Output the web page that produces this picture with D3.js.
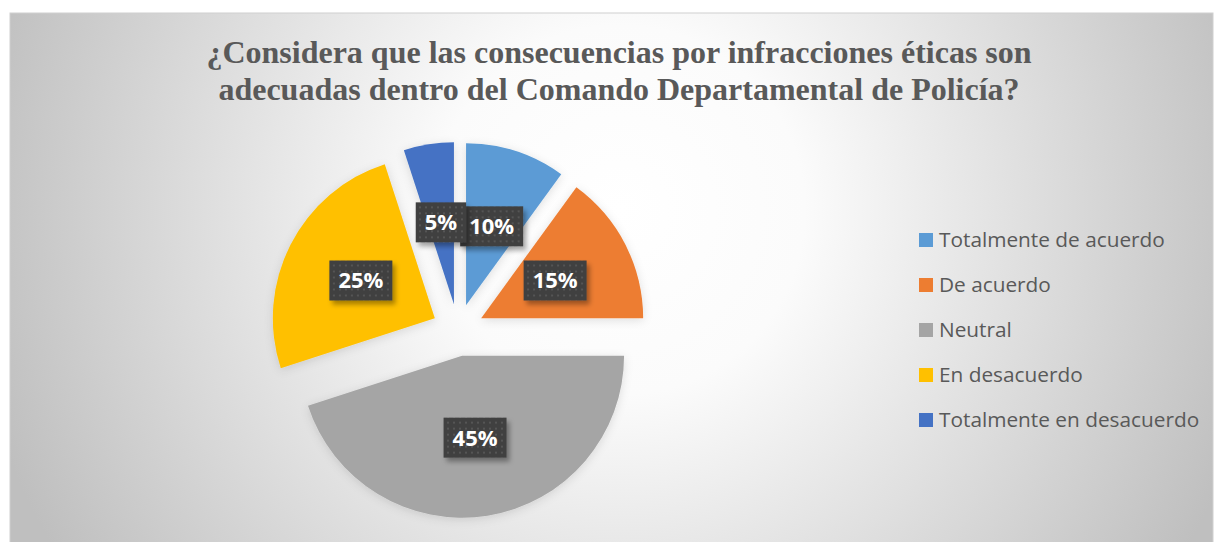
<!DOCTYPE html>
<html>
<head>
<meta charset="utf-8">
<script src="https://cdn.jsdelivr.net/npm/d3@7"></script>
<style>
  body { margin: 0; background: #fff; }
  svg { display: block; }
</style>
</head>
<body>
<div id="chart"></div>
<script>
const width = 1217
const height = 542

// Datos
const categorias = ["Totalmente de acuerdo", "De acuerdo", "Neutral", "En desacuerdo", "Totalmente en desacuerdo"]
const valores = [10, 15, 45, 25, 5]
const etiquetas = ["10%", "15%", "45%", "25%", "5%"]
const colores = ["#5B9BD5", "#ED7D31", "#A5A5A5", "#FFC000", "#4472C4"]
const titulo = ["¿Considera que las consecuencias por infracciones éticas son",
                "adecuadas dentro del Comando Departamental de Policía?"]

const center = { x: 458, y: 330 }
const radius = 162
const explode = 26

const svg = d3.select("#chart")
    .append("svg")
    .attr("width", width)
    .attr("height", height)

const defs = svg.append("defs")

// fondo degradado radial
const grad = defs.append("radialGradient")
    .attr("id", "bg")
    .attr("gradientUnits", "userSpaceOnUse")
    .attr("cx", 620).attr("cy", 210).attr("r", 660)
grad.append("stop").attr("offset", "0").attr("stop-color", "#ffffff")
grad.append("stop").attr("offset", "0.28").attr("stop-color", "#fbfbfb")
grad.append("stop").attr("offset", "1").attr("stop-color", "#bfbfbf")

// sombra de los sectores
const shadow = defs.append("filter").attr("id", "sombra")
    .attr("x", "-20%").attr("y", "-20%").attr("width", "140%").attr("height", "140%")
shadow.append("feDropShadow")
    .attr("dx", 0).attr("dy", 2).attr("stdDeviation", 5)
    .attr("flood-color", "#000").attr("flood-opacity", 0.12)

const boxShadow = defs.append("filter").attr("id", "sombraCaja")
    .attr("x", "-20%").attr("y", "-20%").attr("width", "150%").attr("height", "160%")
boxShadow.append("feDropShadow")
    .attr("dx", 3).attr("dy", 4).attr("stdDeviation", 2.5)
    .attr("flood-color", "#000").attr("flood-opacity", 0.35)

// patrón punteado de las etiquetas
const pat = defs.append("pattern")
    .attr("id", "puntos")
    .attr("patternUnits", "userSpaceOnUse")
    .attr("width", 6).attr("height", 6)
pat.append("rect").attr("width", 6).attr("height", 6).attr("fill", "#3f3f3f")
pat.append("rect").attr("x", 2).attr("y", 2).attr("width", 2).attr("height", 2).attr("fill", "#555555")

svg.append("rect")
    .attr("x", 10).attr("y", 13)
    .attr("width", 1203).attr("height", 540)
    .attr("fill", "url(#bg)")
    .attr("stroke", "#d0d0d0")
    .attr("stroke-width", 1)

// Título
svg.append("g").selectAll("text")
    .data(titulo)
    .join("text")
    .attr("x", 619)
    .attr("y", (d, i) => 63 + i * 37)
    .attr("text-anchor", "middle")
    .attr("font-family", "'Liberation Serif', 'Times New Roman', serif")
    .attr("font-weight", "bold")
    .attr("font-size", 32)
    .attr("fill", "#595959")
    .text(d => d)

// Pie
const pie = d3.pie().sort(null).value(d => d)
const arcs = pie(valores)
const arc = d3.arc().innerRadius(0).outerRadius(radius)
const labelArc = d3.arc().innerRadius(83 * 2).outerRadius(0)

const offset = d => {
    const mid = (d.startAngle + d.endAngle) / 2
    return [Math.sin(mid) * explode, -Math.cos(mid) * explode]
}

const pieGroup = svg.append("g")
    .attr("transform", `translate(${center.x}, ${center.y})`)

pieGroup.selectAll("path")
    .data(arcs)
    .join("path")
    .attr("d", arc)
    .attr("fill", (d, i) => colores[i])
    .attr("filter", "url(#sombra)")
    .attr("transform", d => `translate(${offset(d)})`)

// Etiquetas
const labels = pieGroup.selectAll("g.etiqueta")
    .data(arcs)
    .join("g")
    .attr("class", "etiqueta")
    .attr("transform", d => {
        const o = offset(d)
        const c = labelArc.centroid(d)
        return `translate(${c[0] + o[0]}, ${c[1] + o[1]})`
    })

labels.each(function (d, i) {
    const g = d3.select(this)
    const box = g.append("rect").attr("fill", "url(#puntos)").attr("filter", "url(#sombraCaja)")
    const t = g.append("text")
        .attr("text-anchor", "middle")
        .attr("dy", "0.36em")
        .attr("font-family", "'Open Sans', sans-serif")
        .attr("font-weight", "bold")
        .attr("font-size", 22)
        .attr("fill", "#ffffff")
        .text(etiquetas[i])
    const w = t.node().getComputedTextLength() + 18
    box.attr("x", -w / 2).attr("y", -20).attr("width", w).attr("height", 40)
})

// Leyenda
const legend = svg.append("g").attr("transform", "translate(919, 240)")
const items = legend.selectAll("g")
    .data(categorias)
    .join("g")
    .attr("transform", (d, i) => `translate(0, ${i * 45})`)

items.append("rect")
    .attr("x", 0).attr("y", -7)
    .attr("width", 14).attr("height", 14)
    .attr("fill", (d, i) => colores[i])

items.append("text")
    .attr("x", 20)
    .attr("dy", "0.35em")
    .attr("font-family", "'Open Sans', sans-serif")
    .attr("font-size", 20.8)
    .attr("fill", "#595959")
    .text(d => d)
</script>
</body>
</html>
